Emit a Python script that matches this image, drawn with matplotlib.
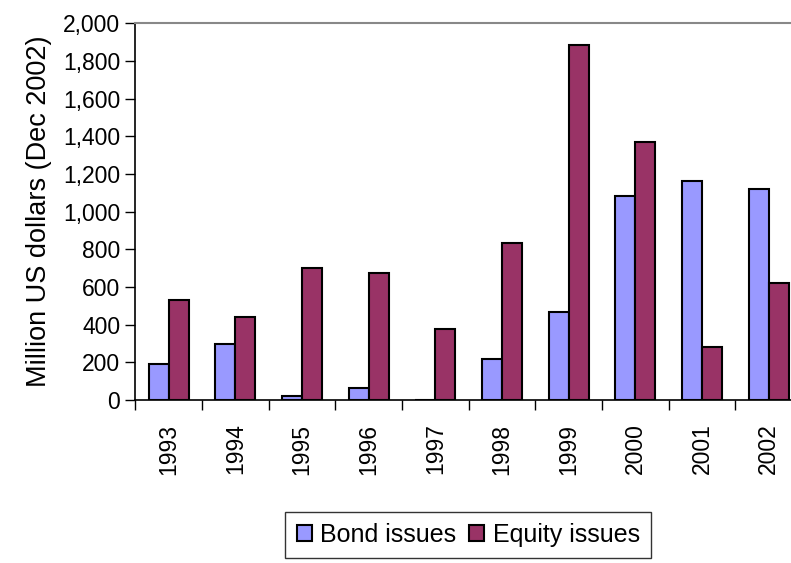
import numpy as np
import matplotlib.pyplot as plt

plt.rcParams['font.family'] = ['Liberation Sans', 'DejaVu Sans']

years = ['1993', '1994', '1995', '1996', '1997', '1998', '1999', '2000', '2001', '2002']
bond = [190, 297, 21, 62, 0, 218, 466, 1083, 1161, 1122]
equity = [531, 441, 703, 674, 375, 834, 1885, 1370, 281, 623]

fig = plt.figure(figsize=(7.91, 5.63), dpi=100)
ax = fig.add_axes([0.1713, 0.2895, 0.8426, 0.669])

x = np.arange(len(years))
w = 0.3
ax.bar(x - w / 2, bond, w, color='#9999FF', edgecolor='black', linewidth=1.5,
       label='Bond issues', zorder=3)
ax.bar(x + w / 2, equity, w, color='#993366', edgecolor='black', linewidth=1.5,
       label='Equity issues', zorder=3)

ax.set_xlim(-0.5, len(years) - 0.5)
ax.set_ylim(0, 2000)
ax.set_yticks(np.arange(0, 2001, 200))
ax.set_yticklabels([f'{v:,}' for v in range(0, 2001, 200)], fontsize=16.5)

# ticks between categories, labels at the centre
ax.set_xticks(np.arange(-0.5, len(years), 1))
ax.set_xticklabels([])
ax.set_xticks(x, minor=True)
ax.set_xticklabels(years, minor=True, rotation=90, fontsize=16.5)
ax.tick_params(axis='x', which='major', length=7, width=1, direction='out')
ax.tick_params(axis='x', which='minor', length=0, pad=17)
ax.tick_params(axis='y', length=7, width=1, direction='out', pad=4)

ax.spines['top'].set_color('#888888')
ax.spines['top'].set_linewidth(1.5)
ax.spines['right'].set_color('#888888')
ax.spines['left'].set_linewidth(1.2)
ax.spines['bottom'].set_linewidth(1.2)

ax.set_ylabel('Million US dollars (Dec 2002)', fontsize=19.5, labelpad=8)

leg = fig.legend(loc='upper center', bbox_to_anchor=(0.592, 0.0906), ncol=2,
                 fontsize=18, frameon=True, fancybox=False, edgecolor='black',
                 handlelength=0.6, handleheight=0.6, handletextpad=0.35,
                 columnspacing=0.5, borderpad=0.45, borderaxespad=0)
leg.get_frame().set_linewidth(1.0)

fig.savefig('out.png', dpi=100)
